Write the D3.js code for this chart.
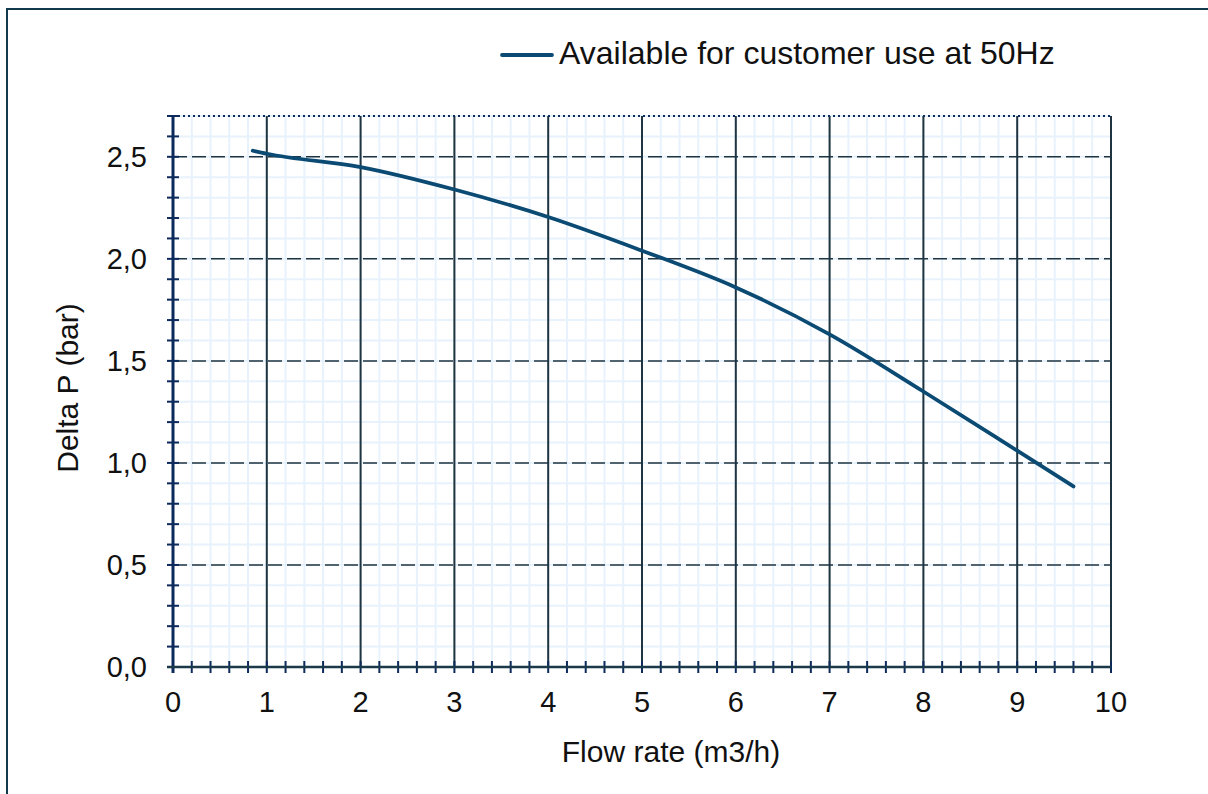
<!DOCTYPE html>
<html><head><meta charset="utf-8">
<script src="https://cdn.jsdelivr.net/npm/d3@7"></script>
<style>body{margin:0;background:#fff}svg{display:block;font-family:"Liberation Sans",Arial,sans-serif}</style>
</head><body><svg id="c" width="1208" height="794"></svg>
<script>
const flowRate = [0.85, 1, 2, 3, 4, 5, 6, 7, 8, 9, 9.6];
const deltaP   = [2.53, 2.515, 2.45, 2.34, 2.205, 2.04, 1.86, 1.63, 1.35, 1.06, 0.885];
const xTicks = [0,1,2,3,4,5,6,7,8,9,10];
const yTicks = [0,0.5,1,1.5,2,2.5];
const seriesName = "Available for customer use at 50Hz";
const xTitle = "Flow rate (m3/h)";
const yTitle = "Delta P (bar)";

const svg = d3.select("#c");
const x = d3.scaleLinear().domain([0,10]).range([173,1111]);
const y = d3.scaleLinear().domain([0,2.7]).range([667,116]);

// frame
svg.append("path").attr("d","M7,794 L7,9 L1208,9").attr("fill","none").attr("stroke","#123a4e").attr("stroke-width",2);

// minor grid
const xMinor = d3.range(0,10.001,0.2);
const yMinor = d3.range(0,2.7001,0.1);
svg.append("g").selectAll("line").data(xMinor).join("line")
  .attr("x1",d=>x(d)).attr("x2",d=>x(d)).attr("y1",y(0)).attr("y2",y(2.7))
  .attr("stroke","#e8f2fc").attr("stroke-width",2);
svg.append("g").selectAll("line").data(yMinor).join("line")
  .attr("y1",d=>y(d)).attr("y2",d=>y(d)).attr("x1",x(0)).attr("x2",x(10))
  .attr("stroke","#e8f2fc").attr("stroke-width",2);

// major horizontal dashed
svg.append("g").selectAll("line").data(yTicks.filter(d=>d>0)).join("line")
  .attr("y1",d=>y(d)).attr("y2",d=>y(d)).attr("x1",x(0)).attr("x2",x(10))
  .attr("stroke","#1e3440").attr("stroke-width",1.5).attr("stroke-dasharray","14,5");
// major vertical solid
svg.append("g").selectAll("line").data(xTicks.filter(d=>d>0)).join("line")
  .attr("x1",d=>x(d)).attr("x2",d=>x(d)).attr("y1",y(0)).attr("y2",y(2.7))
  .attr("stroke","#1e3440").attr("stroke-width",2);
// top dotted
svg.append("line").attr("x1",x(0)).attr("x2",x(10)).attr("y1",y(2.7)).attr("y2",y(2.7))
  .attr("stroke","#0d2a5c").attr("stroke-width",2).attr("stroke-dasharray","2,3");

// axis ticks
svg.append("g").selectAll("line").data(yMinor).join("line")
  .attr("x1",x(0)-6).attr("x2",x(0)+6).attr("y1",d=>y(d)).attr("y2",d=>y(d))
  .attr("stroke","#0d2a5c").attr("stroke-width",2);
svg.append("g").selectAll("line").data(xMinor).join("line")
  .attr("x1",d=>x(d)).attr("x2",d=>x(d)).attr("y1",y(0)-6).attr("y2",y(0)+6)
  .attr("stroke","#0d2a5c").attr("stroke-width",2);
svg.append("line").attr("x1",x(0)).attr("x2",x(0)).attr("y1",y(0)+6).attr("y2",y(2.7))
  .attr("stroke","#0d2a5c").attr("stroke-width",3);
svg.append("line").attr("x1",x(0)-6).attr("x2",x(10)).attr("y1",y(0)).attr("y2",y(0))
  .attr("stroke","#1a3a4a").attr("stroke-width",2.5);

// tick labels
const fmt = d=>d3.format(".1f")(d).replace(".",",");
svg.append("g").selectAll("text").data(yTicks).join("text")
  .attr("x",x(0)-26).attr("y",d=>y(d)).attr("dy","0.36em").attr("text-anchor","end")
  .attr("font-size",29).attr("fill","#111").text(fmt);
svg.append("g").selectAll("text").data(xTicks).join("text")
  .attr("x",d=>x(d)).attr("y",712).attr("text-anchor","middle")
  .attr("font-size",29).attr("fill","#111").text(d=>d);

// titles
svg.append("text").attr("x",671).attr("y",762).attr("text-anchor","middle").attr("font-size",30).attr("fill","#111").text(xTitle);
svg.append("text").attr("transform","translate(78,388) rotate(-90)").attr("text-anchor","middle").attr("font-size",30).attr("fill","#111").text(yTitle);

// curve
const pts = flowRate.map((f,i)=>[f,deltaP[i]]);
svg.append("path").datum(pts)
  .attr("d",d3.line().x(d=>x(d[0])).y(d=>y(d[1])).curve(d3.curveMonotoneX))
  .attr("fill","none").attr("stroke","#0b4a73").attr("stroke-width",3.8).attr("stroke-linecap","round");

// legend
svg.append("line").attr("x1",502).attr("x2",552).attr("y1",55).attr("y2",55)
  .attr("stroke","#0b4a73").attr("stroke-width",3.8).attr("stroke-linecap","round");
svg.append("text").attr("x",559).attr("y",64).attr("font-size",32).attr("fill","#111").text(seriesName);
</script></body></html>
